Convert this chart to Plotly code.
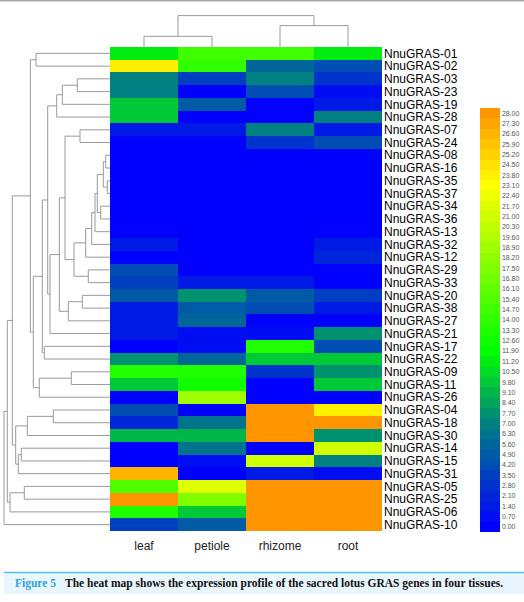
import plotly.graph_objects as go

W, H = 524, 602

tissues = ["leaf", "petiole", "rhizome", "root"]
genes = ["NnuGRAS-01", "NnuGRAS-02", "NnuGRAS-03", "NnuGRAS-23", "NnuGRAS-19", "NnuGRAS-28",
         "NnuGRAS-07", "NnuGRAS-24", "NnuGRAS-08", "NnuGRAS-16", "NnuGRAS-35", "NnuGRAS-37",
         "NnuGRAS-34", "NnuGRAS-36", "NnuGRAS-13", "NnuGRAS-32", "NnuGRAS-12", "NnuGRAS-29",
         "NnuGRAS-33", "NnuGRAS-20", "NnuGRAS-38", "NnuGRAS-27", "NnuGRAS-21", "NnuGRAS-17",
         "NnuGRAS-22", "NnuGRAS-09", "NnuGRAS-11", "NnuGRAS-26", "NnuGRAS-04", "NnuGRAS-18",
         "NnuGRAS-30", "NnuGRAS-14", "NnuGRAS-15", "NnuGRAS-31", "NnuGRAS-05", "NnuGRAS-25",
         "NnuGRAS-06", "NnuGRAS-10"]

# expression values per tissue, in gene (row) order
leaf = [11.5, 23.5, 7.0, 7.0, 9.5, 9.5, 1.4, 0.1, 0.1, 0.1, 0.1, 0.1, 0.1, 0.1, 0.1, 1.1, 0.2, 4.3,
        3.5, 4.8, 1.6, 1.6, 1.6, 0.2, 7.8, 13.3, 9.5, 0.2, 4.0, 2.2, 9.0, 0.3, 0.3, 26.5, 15.4, 28.0,
        13.3, 3.2]
petiole = [14.5, 14.0, 3.8, 0.3, 4.8, 0.3, 1.4, 0.1, 0.1, 0.1, 0.1, 0.1, 0.1, 0.1, 0.1, 0.1, 0.1, 0.2,
           1.3, 7.5, 4.8, 5.6, 1.0, 0.8, 5.6, 13.3, 12.6, 18.9, 0.3, 6.5, 8.8, 6.5, 0.6, 0.3, 22.0, 17.5,
           9.5, 4.8]
rhizome = [15.0, 5.3, 7.0, 4.0, 0.2, 0.2, 7.0, 2.5, 0.1, 0.1, 0.1, 0.1, 0.1, 0.1, 0.1, 0.1, 0.2, 0.1,
           1.3, 4.8, 4.3, 0.1, 1.0, 13.0, 9.5, 2.8, 0.2, 0.1, 28.0, 28.0, 28.0, 0.3, 21.3, 1.1, 28.0, 28.0,
           28.0, 28.0]
root = [11.5, 4.0, 2.5, 0.5, 1.2, 7.0, 1.5, 4.3, 0.1, 0.1, 0.1, 0.1, 0.1, 0.1, 0.1, 1.3, 2.0, 0.3,
        0.1, 3.8, 1.3, 0.2, 7.8, 4.0, 9.5, 7.8, 9.5, 0.2, 23.5, 28.0, 7.7, 21.0, 7.0, 0.6, 28.0, 28.0,
        28.0, 28.0]

colorbar_ticks = [round(k * 0.7, 2) for k in range(41)]

# row dendrogram linkage: (child_a, child_b, distance); leaves 0..37, new nodes 38, 39, ...
row_links = [
    (0, 1, 74.0), (2, 3, 32.7), (39, 4, 47.7), (40, 5, 53.3), (6, 7, 30.0),
    (8, 9, 4.3), (10, 11, 2.7), (43, 44, 6.7), (12, 13, 9.3), (45, 46, 12.7),
    (47, 14, 15.0), (48, 15, 18.3), (49, 16, 24.3), (17, 18, 21.7), (50, 51, 36.0),
    (42, 52, 45.0), (19, 20, 27.7), (54, 21, 41.7), (53, 55, 50.7), (56, 22, 60.0),
    (41, 57, 62.3), (23, 24, 65.7), (58, 59, 67.7), (25, 26, 38.7), (61, 27, 70.7),
    (60, 62, 76.7), (38, 63, 79.7), (28, 29, 56.7), (65, 30, 82.7), (31, 32, 88.7),
    (67, 33, 91.7), (66, 68, 94.3), (64, 69, 97.7), (34, 35, 85.7), (71, 36, 100.0),
    (70, 72, 102.7), (73, 37, 106.0),
]
# column dendrogram linkage: leaves 0..3
col_links = [(0, 1, 10.7), (2, 3, 21.4), (4, 5, 31.4)]


def dendro_segments(links, n_leaves):
    pos = {i: float(i) for i in range(n_leaves)}
    hgt = {i: 0.0 for i in range(n_leaves)}
    a_pos, a_h = [], []
    for k, (a, b, h) in enumerate(links):
        node = n_leaves + k
        a_pos += [pos[a], pos[a], pos[b], pos[b], None]
        a_h += [hgt[a], h, h, hgt[b], None]
        pos[node] = (pos[a] + pos[b]) / 2
        hgt[node] = h
    return a_pos, a_h


# colour map (continuous stops), quantised into 41 bands like the original
stops = [(0.0, (0, 0, 255)), (7.0, (0, 128, 128)), (11.9, (0, 255, 0)),
         (23.1, (255, 255, 0)), (28.0, (255, 150, 0))]


def cmap(v):
    for (v0, c0), (v1, c1) in zip(stops[:-1], stops[1:]):
        if v <= v1:
            t = (v - v0) / (v1 - v0)
            return "rgb(%d,%d,%d)" % tuple(round(c0[i] + t * (c1[i] - c0[i])) for i in range(3))
    return "rgb(%d,%d,%d)" % stops[-1][1]


nb = len(colorbar_ticks)
colorscale = []
for i, v in enumerate(colorbar_ticks):
    c = cmap(v)
    colorscale.append([i / nb, c])
    colorscale.append([(i + 1) / nb, c])
step = colorbar_ticks[1] - colorbar_ticks[0]
zmin = colorbar_ticks[0] - step / 2
zmax = colorbar_ticks[-1] + step / 2

z = [[leaf[r], petiole[r], rhizome[r], root[r]] for r in range(len(genes))]


# pixel layout helpers
def px_x(p):
    return p / W


def px_y(p):
    return 1 - p / H


hm_left, hm_right, hm_top, hm_bot = 110, 382, 47, 531

fig = go.Figure()
fig.add_trace(go.Heatmap(
    z=z, x=list(range(len(tissues))), y=list(range(len(genes))),
    colorscale=colorscale, zmin=zmin, zmax=zmax, xgap=0, ygap=0,
    colorbar=dict(
        x=px_x(480), xanchor="left", xpad=0, ypad=0,
        y=px_y((108 + 532) / 2), yanchor="middle",
        len=(532 - 108) / H, lenmode="fraction",
        thickness=20, thicknessmode="pixels", outlinewidth=0,
        tickvals=colorbar_ticks, ticktext=["%.2f" % v for v in colorbar_ticks],
        ticks="", ticklabelposition="outside",
        tickfont=dict(family="Liberation Sans, Arial", size=7, color="#555555"),
    ),
))

ry, rx = dendro_segments(row_links, len(genes))
fig.add_trace(go.Scatter(x=rx, y=ry, mode="lines", xaxis="x2", yaxis="y",
                         line=dict(color="#9a9a9a", width=1), hoverinfo="skip", showlegend=False))
cx, cy = dendro_segments(col_links, len(tissues))
fig.add_trace(go.Scatter(x=cx, y=cy, mode="lines", xaxis="x", yaxis="y3",
                         line=dict(color="#9a9a9a", width=1), hoverinfo="skip", showlegend=False))

fig.update_layout(
    width=W, height=H, margin=dict(l=0, r=0, t=0, b=0),
    paper_bgcolor="white", plot_bgcolor="white", showlegend=False,
    font=dict(family="Liberation Sans, Arial", color="black"),
    xaxis=dict(domain=[px_x(hm_left), px_x(hm_right)], range=[-0.5, 3.5],
               tickvals=list(range(len(tissues))), ticktext=tissues, ticks="",
               ticklabelstandoff=6,
               tickfont=dict(size=12, color="#222222"), showgrid=False, zeroline=False,
               showline=False, anchor="y", fixedrange=True),
    yaxis=dict(domain=[px_y(hm_bot), px_y(hm_top)], range=[len(genes) - 0.5, -0.5],
               tickvals=list(range(len(genes))), ticktext=genes, side="right", ticks="",
               ticklabelstandoff=1,
               tickfont=dict(size=12, color="black"), showgrid=False, zeroline=False,
               showline=False, anchor="x", fixedrange=True),
    xaxis2=dict(domain=[0, px_x(hm_left)], range=[hm_left, 0], visible=False,
                anchor="y", fixedrange=True),
    yaxis3=dict(domain=[px_y(hm_top), px_y(10)], range=[0, hm_top - 10], visible=False,
                anchor="x", fixedrange=True),
)

# top rule and caption box
fig.add_shape(type="line", xref="paper", yref="paper", x0=0, x1=1, y0=px_y(0.8), y1=px_y(0.8),
              line=dict(color="#a8a8a8", width=1.5))
fig.add_shape(type="rect", xref="paper", yref="paper", x0=px_x(4), x1=1, y0=px_y(594), y1=px_y(572),
              fillcolor="#eaf6fd", line=dict(width=0), layer="below")
fig.add_shape(type="line", xref="paper", yref="paper", x0=px_x(4), x1=1, y0=px_y(572.5), y1=px_y(572.5),
              line=dict(color="#55bdee", width=1.5))
fig.add_annotation(xref="paper", yref="paper", x=px_x(13), y=px_y(583.5), xanchor="left",
                   yanchor="middle", showarrow=False, text="<b>Figure 5</b>",
                   font=dict(family="Liberation Serif, Times New Roman", size=11.5, color="#2aa3dc"))
fig.add_annotation(xref="paper", yref="paper", x=px_x(63), y=px_y(583.5), xanchor="left",
                   yanchor="middle", showarrow=False,
                   text="<b>The heat map shows the expression profile of the sacred lotus GRAS genes in four tissues.</b>",
                   font=dict(family="Liberation Serif, Times New Roman", size=11.5, color="#111111"))

fig.write_html("out.html", config={"displayModeBar": False},
               post_script="document.body.style.margin='0';document.body.style.padding='0';"
                           "document.body.style.overflow='hidden';")
